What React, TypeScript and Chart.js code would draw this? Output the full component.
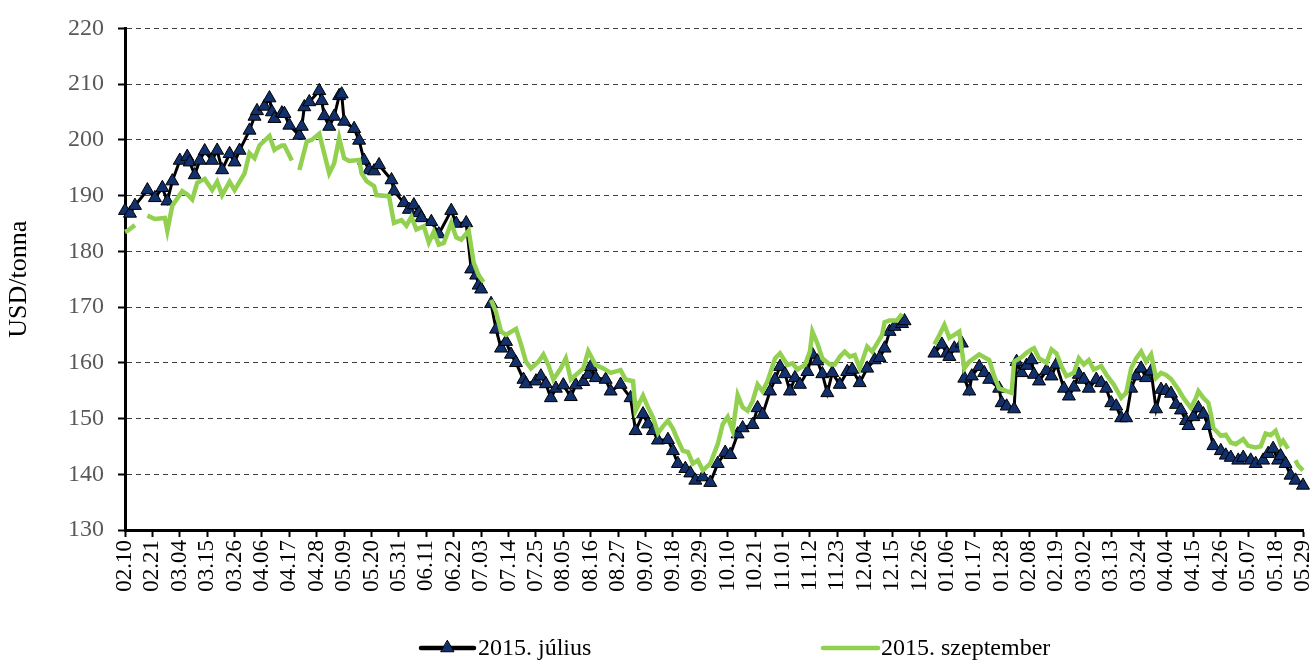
import React, { useEffect, useRef } from "react";
import { Chart, registerables } from "chart.js";

Chart.register(...registerables);

// Tick labels (every 11 calendar days from 2014-02-10 to 2015-05-29)
const tickLabels = [
  "02.10", "02.21", "03.04", "03.15", "03.26", "04.06", "04.17", "04.28", "05.09", "05.20",
  "05.31", "06.11", "06.22", "07.03", "07.14", "07.25", "08.05", "08.16", "08.27", "09.07",
  "09.18", "09.29", "10.10", "10.21", "11.01", "11.12", "11.23", "12.04", "12.15", "12.26",
  "01.06", "01.17", "01.28", "02.08", "02.19", "03.02", "03.13", "03.24", "04.04", "04.15",
  "04.26", "05.07", "05.18", "05.29",
];
const tickStepDays = 11;
const lastDay = 473;

const seriesNames = ["2015. július", "2015. szeptember"];

// [day offset from 2014-02-10, USD/tonna] ; null = gap in the data
const julyPoints: [number, number | null][] = [
  [0, 187.3], [2, 186.8], [4, 188.2], [9, 191.0], [12, 189.6], [15, 191.4], [17, 189.0], [19, 192.6],
  [22, 196.3], [25, 197.0], [26, 196.0], [28, 193.7], [30, 196.3], [32, 198.0], [35, 196.3], [37, 198.1],
  [39, 194.6], [42, 197.5], [44, 196.0], [46, 198.1], [50, 201.7], [52, 204.2], [53, 205.2], [56, 206.0],
  [58, 207.5], [59, 205.0], [60, 203.8], [63, 204.8], [64, 204.7], [66, 202.6], [70, 200.8], [71, 202.4],
  [72, 205.9], [74, 206.8], [78, 208.8], [79, 207.0], [80, 204.3], [82, 202.4], [84, 204.2], [86, 207.9],
  [87, 208.2], [88, 203.3], [92, 202.0], [94, 199.9], [96, 196.3], [98, 194.6], [100, 194.4], [102, 195.5],
  [107, 192.8], [108, 190.8], [112, 188.7], [114, 187.5], [116, 188.3], [118, 186.9], [119, 186.0], [123, 185.3],
  [126, 183.1], [131, 187.3], [133, 185.0], [137, 185.1], [139, 176.8], [141, 175.7], [142, 173.9], [143, 173.2],
  [145, null], [147, 170.6], [149, 166.0], [151, 162.6], [153, 163.8], [155, 161.5], [157, 160.0], [160, 157.0],
  [161, 156.2], [165, 156.7], [167, 157.6], [169, 156.2], [171, 153.7], [173, 155.4], [176, 156.0], [179, 153.9],
  [181, 156.0], [184, 156.6], [186, 157.9], [187, 159.3], [189, 157.3], [193, 157.0], [195, 154.9], [199, 156.1],
  [203, 153.7], [205, 147.8], [208, 150.8], [210, 149.0], [212, 147.8], [214, 146.1], [218, 146.2], [220, 144.2],
  [222, 141.9], [225, 141.0], [227, 140.2], [229, 138.9], [232, 139.5], [235, 138.5], [238, 141.9], [241, 143.9],
  [243, 143.5], [246, 147.2], [248, 148.3], [252, 148.9], [254, 151.9], [256, 150.7], [259, 154.9], [261, 157.0],
  [263, 159.3], [265, 158.0], [267, 154.9], [269, 157.3], [271, 156.1], [274, 158.4], [276, 161.5], [278, 160.3],
  [280, 158.0], [282, 154.6], [284, 158.2], [287, 156.1], [290, 158.4], [292, 158.8], [295, 156.4], [298, 159.0],
  [301, 160.5], [303, 160.9], [305, 162.6], [307, 165.6], [309, 166.5], [312, 167.0], [313, 167.5], [318, null],
  [325, 161.7], [328, 163.3], [330, 161.7], [331, 161.1], [333, 162.6], [336, 163.5], [337, 157.2], [339, 154.9],
  [340, 157.6], [343, 159.3], [345, 158.2], [347, 157.0], [351, 155.4], [352, 152.8], [354, 152.2], [357, 151.7],
  [358, 160.2], [360, 158.2], [362, 159.5], [364, 160.5], [365, 157.9], [367, 156.7], [370, 158.6], [372, 157.6],
  [374, 159.7], [377, 155.4], [379, 154.0], [381, 155.6], [383, 157.9], [385, 157.0], [387, 155.4], [390, 157.0],
  [392, 156.4], [394, 155.4], [396, 152.8], [398, 152.2], [400, 150.1], [402, 150.1], [404, 155.4], [406, 157.6],
  [408, 159.0], [410, 157.3], [412, 158.5], [414, 151.7], [416, 155.2], [418, 155.0], [420, 154.5], [422, 152.5],
  [424, 151.5], [426, 149.6], [427, 148.7], [429, 150.3], [431, 151.9], [433, 150.8], [435, 148.7], [437, 145.1],
  [440, 144.2], [442, 143.4], [444, 143.0], [447, 142.5], [449, 143.0], [452, 142.5], [454, 141.9], [457, 142.5],
  [459, 143.7], [461, 144.6], [463, 142.5], [464, 143.3], [466, 141.9], [468, 139.8], [470, 138.9], [473, 138.0],
];

const septemberPoints: [number, number | null][] = [
  [0, 183.5], [1, 183.7], [4, 184.7], [7, null], [9, 186.4], [12, 185.8], [16, 186.0], [17, 183.7],
  [19, 188.2], [23, 190.8], [25, 190.2], [27, 189.3], [29, 192.3], [32, 193.0], [35, 191.0], [37, 192.5],
  [39, 190.1], [42, 192.5], [44, 191.0], [48, 194.0], [50, 197.6], [52, 196.7], [54, 199.0], [58, 200.7],
  [60, 198.2], [61, 198.5], [63, 199.0], [64, 199.0], [67, 196.3], [68, null], [70, 194.6], [73, 199.7],
  [75, 200.0], [78, 201.1], [82, 194.0], [84, 195.8], [86, 200.3], [88, 196.7], [90, 196.2], [94, 196.4],
  [95, 194.0], [97, 192.6], [100, 191.7], [101, 190.1], [106, 189.9], [108, 185.1], [111, 185.6], [113, 184.6],
  [115, 186.2], [117, 183.9], [120, 184.5], [122, 181.6], [124, 183.5], [126, 181.2], [128, 181.5], [131, 185.1],
  [133, 182.5], [135, 182.1], [138, 183.7], [140, 178.0], [142, 175.7], [144, 174.5], [145, null], [147, 171.3],
  [149, 169.1], [151, 165.6], [153, 165.0], [157, 166.1], [159, 163.3], [161, 160.2], [163, 159.0], [166, 160.2],
  [168, 161.5], [170, 159.6], [172, 157.0], [175, 159.0], [177, 160.8], [179, 157.0], [184, 159.0], [186, 162.1],
  [189, 159.6], [192, 159.0], [195, 158.2], [199, 158.7], [201, 157.0], [204, 156.7], [205, 151.4], [208, 154.1],
  [210, 152.0], [212, 150.2], [214, 147.4], [216, 148.6], [218, 149.6], [220, 148.2], [222, 146.1], [224, 144.2],
  [226, 144.0], [228, 141.9], [230, 142.5], [232, 140.7], [235, 141.9], [238, 145.4], [240, 149.0], [242, 150.3],
  [244, 147.8], [246, 154.2], [248, 152.0], [250, 151.4], [252, 153.1], [254, 156.1], [256, 154.9], [258, 156.7],
  [261, 160.8], [263, 161.7], [266, 159.6], [268, 159.9], [270, 158.8], [273, 159.6], [275, 162.0], [276, 165.6],
  [278, 163.5], [280, 160.8], [283, 159.7], [285, 159.7], [287, 161.1], [289, 162.0], [291, 161.1], [293, 161.4],
  [295, 159.0], [298, 162.9], [300, 162.0], [302, 163.5], [304, 165.0], [305, 167.3], [307, 167.6], [310, 167.6],
  [312, 168.8], [318, null], [325, 163.3], [327, 165.0], [329, 166.8], [331, 164.5], [333, 165.0], [335, 165.6],
  [337, 159.0], [339, 160.2], [343, 161.5], [345, 161.0], [347, 160.5], [349, 157.6], [351, 155.4], [354, 154.9],
  [356, 154.6], [357, 160.2], [360, 161.0], [362, 161.8], [364, 162.4], [365, 162.6], [367, 160.8], [370, 160.0],
  [372, 162.4], [374, 161.7], [376, 159.4], [378, 157.6], [381, 158.2], [383, 160.8], [385, 159.7], [387, 160.5],
  [389, 158.8], [392, 159.4], [394, 157.9], [397, 156.1], [400, 153.7], [402, 154.6], [404, 159.0], [406, 160.8],
  [408, 162.0], [410, 160.2], [412, 161.5], [414, 157.3], [416, 158.2], [418, 157.8], [420, 157.1], [423, 155.2],
  [425, 153.7], [427, 152.5], [428, 151.9], [430, 153.7], [431, 154.9], [433, 153.7], [435, 152.8], [436, 150.8],
  [437, 148.3], [440, 146.9], [442, 147.1], [444, 145.7], [446, 145.4], [449, 146.3], [451, 145.1], [454, 144.8],
  [456, 145.0], [458, 147.3], [460, 147.0], [462, 147.8], [464, 145.4], [465, 146.0], [467, 144.6], [468, null],
  [470, 142.5], [471, 141.6], [473, 140.7],
];

const FONT = "'Liberation Serif', 'Times New Roman', serif";
const JULY_LINE = "#000000";
const JULY_MARKER = "#12306B";
const SEPT_LINE = "#92D050";

const legendPlugin = {
  id: "customLegend",
  afterDraw(chart: any) {
    const ctx = chart.ctx as CanvasRenderingContext2D;
    const y = 648;
    const layout = [
      { x0: 421, x1: 474, tx: 478 },
      { x0: 823, x1: 878, tx: 881 },
    ];
    chart.data.datasets.forEach((ds: any, i: number) => {
      const l = layout[i];
      ctx.save();
      ctx.strokeStyle = ds.borderColor;
      ctx.lineWidth = 4.5;
      ctx.lineCap = "round";
      ctx.beginPath();
      ctx.moveTo(l.x0, y);
      ctx.lineTo(l.x1, y);
      ctx.stroke();
      if (ds.pointRadius > 0) {
        const r = ds.pointRadius;
        const cx = (l.x0 + l.x1) / 2;
        ctx.beginPath();
        ctx.moveTo(cx, y - r);
        ctx.lineTo(cx + Math.sin((2 * Math.PI) / 3) * r, y - Math.cos((2 * Math.PI) / 3) * r);
        ctx.lineTo(cx + Math.sin((4 * Math.PI) / 3) * r, y - Math.cos((4 * Math.PI) / 3) * r);
        ctx.closePath();
        ctx.fillStyle = ds.pointBackgroundColor;
        ctx.fill();
        ctx.lineWidth = 1;
        ctx.strokeStyle = ds.pointBorderColor;
        ctx.stroke();
      }
      ctx.fillStyle = "#000";
      ctx.font = `24px ${FONT}`;
      ctx.textBaseline = "middle";
      ctx.textAlign = "left";
      ctx.fillText(ds.label, l.tx, y + 1);
      ctx.restore();
    });
  },
};

export default function App() {
  const ref = useRef<HTMLCanvasElement>(null);

  useEffect(() => {
    document.body.style.margin = "0";
    const canvas = ref.current;
    if (!canvas) return;
    const chart = new Chart(canvas, {
      type: "line",
      data: {
        datasets: [
          {
            label: seriesNames[0],
            data: julyPoints.map(([x, y]) => ({ x, y })),
            borderColor: JULY_LINE,
            borderWidth: 3,
            pointStyle: "triangle",
            pointRadius: 7.5,
            pointBackgroundColor: JULY_MARKER,
            pointBorderColor: "#000",
            pointBorderWidth: 1,
            tension: 0,
            spanGaps: false,
            clip: false,
            order: 1,
          } as any,
          {
            label: seriesNames[1],
            data: septemberPoints.map(([x, y]) => ({ x, y })),
            borderColor: SEPT_LINE,
            borderWidth: 4.5,
            pointRadius: 0,
            tension: 0,
            spanGaps: false,
            clip: false,
            order: 0,
          } as any,
        ],
      },
      options: {
        animation: false,
        responsive: false,
        maintainAspectRatio: false,
        layout: { padding: { left: 0, right: 10, top: 23, bottom: 62 } },
        plugins: { legend: { display: false }, tooltip: { enabled: false } },
        scales: {
          x: {
            type: "linear",
            min: 0,
            max: lastDay,
            afterFit(scale: any) {
              scale.height = 70;
              scale.paddingLeft = 0;
              scale.paddingRight = 0;
            },
            ticks: {
              stepSize: tickStepDays,
              autoSkip: false,
              maxTicksLimit: 200,
              minRotation: 90,
              maxRotation: 90,
              padding: 3,
              color: "#000",
              font: { family: FONT, size: 23 },
              callback: (v: any) => tickLabels[Math.round(Number(v) / tickStepDays)] ?? "",
            },
            grid: { drawOnChartArea: false, tickLength: 7, tickColor: "#000", tickWidth: 2 },
            border: { color: "#000", width: 3 },
          },
          y: {
            min: 130,
            max: 220,
            afterFit(scale: any) {
              scale.width = 125;
            },
            ticks: {
              stepSize: 10,
              padding: 14,
              color: "#595959",
              font: { family: FONT, size: 24 },
            },
            grid: {
              color: "#404040",
              lineWidth: 1,
              tickColor: "#000",
              tickWidth: 2,
              tickLength: 7,
              tickBorderDash: [],
            },
            border: { color: "#000", width: 3, dash: [5, 4] },
            title: {
              display: true,
              text: "USD/tonna",
              color: "#000",
              font: { family: FONT, size: 26 },
              padding: { top: 4, bottom: 0 },
            },
          },
        },
      } as any,
      plugins: [legendPlugin],
    });
    return () => chart.destroy();
  }, []);

  return (
    <div style={{ width: 1313, height: 662, position: "relative" }}>
      <canvas ref={ref} width={1313} height={662} style={{ display: "block" }} />
    </div>
  );
}
